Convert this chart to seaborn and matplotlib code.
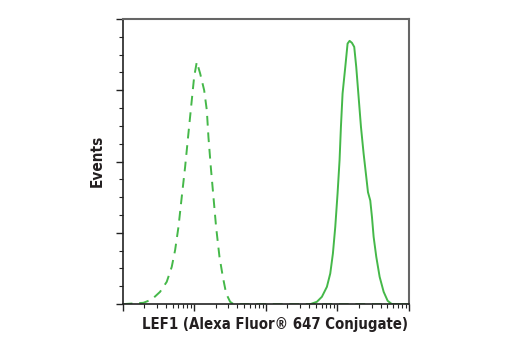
import numpy as np
import pandas as pd
import matplotlib
matplotlib.use("Agg")
import matplotlib.pyplot as plt
import seaborn as sns
from matplotlib.ticker import LogLocator, NullFormatter, MultipleLocator

# Isotype / control (dashed), log10 fluorescence and relative events
ctrl_log = [1.0, 1.289, 1.406, 1.522, 1.615, 1.685, 1.732, 1.779, 1.825, 1.872, 1.918,
            1.965, 1.998, 2.035, 2.082, 2.138, 2.175, 2.198, 2.231, 2.268, 2.305, 2.352,
            2.399, 2.445, 2.501, 2.548, 3.5, 5.0]
ctrl_y = [0, 0.019, 0.065, 0.173, 0.313, 0.523, 0.757, 1.084, 1.505, 1.925, 2.393,
          2.860, 3.187, 3.397, 3.234, 3.0, 2.72, 2.34, 1.92, 1.50, 1.08, 0.664,
          0.383, 0.150, 0.033, 0, 0, 0]

# LEF1 stained (solid)
lef1_log = [3.620, 3.713, 3.783, 3.853, 3.900, 3.937, 3.970, 4.002, 4.030, 4.049, 4.072,
            4.110, 4.142, 4.170, 4.203, 4.235, 4.263, 4.296, 4.329, 4.366, 4.403, 4.427,
            4.459, 4.483, 4.506, 4.543, 4.590, 4.646, 4.702, 4.762, 4.95]
lef1_y = [0, 0.033, 0.103, 0.243, 0.43, 0.71, 1.084, 1.551, 2.019, 2.486, 2.953,
          3.327, 3.654, 3.692, 3.664, 3.607, 3.327, 2.907, 2.486, 2.112, 1.785, 1.570,
          1.453, 1.22, 0.944, 0.664, 0.383, 0.173, 0.047, 0, 0]

xlabel = "LEF1 (Alexa Fluor\u00ae 647 Conjugate)"
ylabel = "Events"

sns.set_theme(style="white")
plt.rcParams['font.family'] = ['DejaVu Sans']

fig = plt.figure(figsize=(5.2, 3.5), dpi=100)
ax = fig.add_axes([0.236, 0.131, 0.5505, 0.815])

green = "#45b849"
df_c = pd.DataFrame({"x": np.power(10.0, ctrl_log), "y": ctrl_y})
df_l = pd.DataFrame({"x": np.power(10.0, lef1_log), "y": lef1_y})
sns.lineplot(data=df_c, x="x", y="y", ax=ax, color=green, lw=1.4, linestyle=(0, (5, 3.5)))
sns.lineplot(data=df_l, x="x", y="y", ax=ax, color=green, lw=1.4)

ax.set_xscale("log")
ax.set_xlim(10, 1e5)
ax.set_ylim(0, 4)
ax.xaxis.set_major_locator(LogLocator(base=10, numticks=10))
ax.xaxis.set_minor_locator(LogLocator(base=10, subs=np.arange(2, 10), numticks=20))
ax.xaxis.set_major_formatter(NullFormatter())
ax.xaxis.set_minor_formatter(NullFormatter())
ax.yaxis.set_major_locator(MultipleLocator(1))
ax.yaxis.set_minor_locator(MultipleLocator(0.25))
ax.yaxis.set_major_formatter(NullFormatter())

ax.tick_params(axis="both", which="major", direction="out", length=5, width=1, color="#222222",
               bottom=True, left=True)
ax.tick_params(axis="both", which="minor", direction="out", length=3, width=0.8, color="#222222",
               bottom=True, left=True)
for s in ["left", "bottom"]:
    ax.spines[s].set_color("#222222")
    ax.spines[s].set_linewidth(1.2)
for s in ["top", "right"]:
    ax.spines[s].set_color("#666666")
    ax.spines[s].set_linewidth(1.5)
ax.set_xlabel("")
ax.set_ylabel("")

fig.text(275.5/520, 1 - 325/350, xlabel, ha="center", va="center", fontsize=10.7, fontweight="bold",
         fontstretch="condensed", color="#231f20")
fig.text(97/520, 1 - 161/350, ylabel, ha="center", va="center", rotation=90, fontsize=11,
         fontweight="bold", fontstretch="condensed", color="#231f20")

fig.savefig("out.png", dpi=100)
